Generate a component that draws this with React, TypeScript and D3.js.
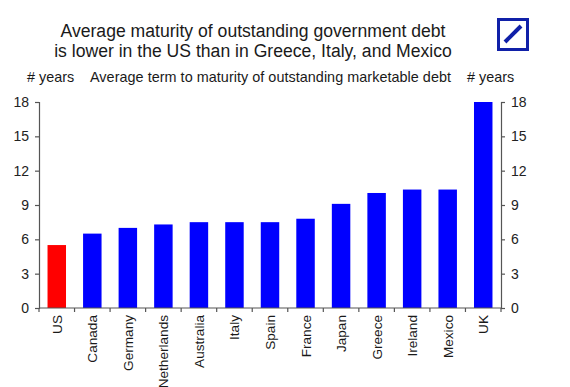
import React, { useEffect, useRef } from 'react';
import * as d3 from 'd3';

const countries = ['US', 'Canada', 'Germany', 'Netherlands', 'Australia', 'Italy', 'Spain', 'France', 'Japan', 'Greece', 'Ireland', 'Mexico', 'UK'];
const maturity = [5.5, 6.5, 7.0, 7.3, 7.5, 7.5, 7.5, 7.8, 9.1, 10.05, 10.35, 10.35, 18];
const yTicks = [0, 3, 6, 9, 12, 15, 18];
const titleLines = ['Average maturity of outstanding government debt', 'is lower in the US than in Greece, Italy, and Mexico'];

export default function App() {
  const ref = useRef<SVGSVGElement>(null);

  useEffect(() => {
    const svg = d3.select(ref.current);
    svg.selectAll('*').remove();
    const font = 'Liberation Sans, Arial, sans-serif';
    const axisColor = '#555';

    const left = 39, right = 501, top = 102, bottom = 308;

    const x = d3.scaleBand<string>().domain(countries).range([left, right]).paddingInner(0.48).paddingOuter(0.24);
    const y = d3.scaleLinear().domain([0, 18]).range([bottom, top]);

    // title
    svg.append('g')
      .selectAll('text')
      .data(titleLines)
      .enter()
      .append('text')
      .attr('x', 253)
      .attr('y', (d, i) => 36.5 + i * 20.5)
      .attr('text-anchor', 'middle')
      .attr('font-family', font)
      .attr('font-size', 17.6)
      .attr('fill', '#1a1a1a')
      .text(d => d);

    // logo
    const logo = svg.append('g');
    logo.append('rect').attr('x', 498.5).attr('y', 19.5).attr('width', 29).attr('height', 30)
      .attr('fill', 'none').attr('stroke', '#1020a8').attr('stroke-width', 3);
    logo.append('line').attr('x1', 505).attr('y1', 42).attr('x2', 521).attr('y2', 26)
      .attr('stroke', '#1020a8').attr('stroke-width', 4);

    // subtitle row
    const sub = svg.append('g').attr('font-family', font).attr('font-size', 14.4).attr('fill', '#1a1a1a');
    sub.append('text').attr('x', 27).attr('y', 82).text('# years');
    sub.append('text').attr('x', 90).attr('y', 82).attr('textLength', 361).text('Average term to maturity of outstanding marketable debt');
    sub.append('text').attr('x', 467).attr('y', 82).text('# years');

    // bars
    svg.append('g')
      .selectAll('rect')
      .data(countries)
      .enter()
      .append('rect')
      .attr('x', d => x(d)!)
      .attr('y', (d, i) => y(maturity[i]))
      .attr('width', x.bandwidth())
      .attr('height', (d, i) => bottom - y(maturity[i]))
      .attr('fill', d => (d === 'US' ? '#ff0000' : '#0000ff'));

    // axes
    const leftAxis = svg.append('g')
      .attr('transform', `translate(${left},0)`)
      .call(d3.axisLeft(y).tickValues(yTicks).tickSize(4).tickPadding(6));
    const rightAxis = svg.append('g')
      .attr('transform', `translate(${right},0)`)
      .call(d3.axisRight(y).tickValues(yTicks).tickSize(4).tickPadding(6));

    const step = x.step();
    const bounds = d3.range(countries.length + 1).map(i => left + i * step);
    const xAxis = svg.append('g');
    xAxis.append('line').attr('x1', left).attr('x2', right).attr('y1', bottom).attr('y2', bottom)
      .attr('stroke', axisColor).attr('stroke-width', 1.2);
    xAxis.selectAll('line.tk')
      .data(bounds)
      .enter()
      .append('line')
      .attr('class', 'tk')
      .attr('x1', d => d).attr('x2', d => d)
      .attr('y1', bottom).attr('y2', bottom + 4)
      .attr('stroke', axisColor).attr('stroke-width', 1.2);
    xAxis.selectAll('text')
      .data(countries)
      .enter()
      .append('text')
      .attr('transform', d => `translate(${x(d)! + x.bandwidth() / 2 + 5},${bottom + 7}) rotate(-90)`)
      .attr('text-anchor', 'end')
      .attr('font-family', font)
      .attr('font-size', 13.6)
      .attr('fill', '#1a1a1a')
      .text(d => d);

    [leftAxis, rightAxis].forEach(a => {
      a.select('.domain').attr('stroke', axisColor).attr('stroke-width', 1.2);
      a.selectAll('.tick line').attr('stroke', axisColor).attr('stroke-width', 1.2);
      a.selectAll('.tick text').attr('font-family', font).attr('font-size', 14).attr('fill', '#222');
    });
  }, []);

  return (
    <svg ref={ref} width={570} height={387} style={{ position: 'absolute', left: 0, top: 0, background: '#fff' }} />
  );
}
